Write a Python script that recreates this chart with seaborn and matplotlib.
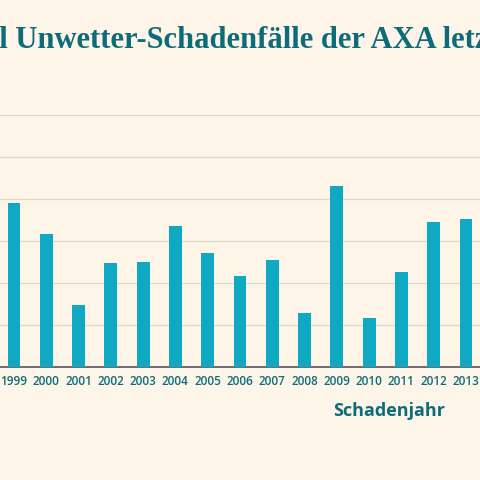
import matplotlib
matplotlib.use("Agg")
import matplotlib.pyplot as plt
import seaborn as sns
import pandas as pd

years = ["1999","2000","2001","2002","2003","2004","2005","2006","2007","2008","2009","2010","2011","2012","2013"]
claims = [3905,3167,1476,2476,2500,3357,2714,2167,2548,1286,4310,1167,2262,3452,3524]
title = "Anzahl Unwetter-Schadenfälle der AXA letzten 20 Jahre"
xlabel = "Schadenjahr"

BG = "#fdf6e8"; BAR = "#0fa9c4"; TXT = "#0e6b7a"
sns.set_theme(style="white")
df = pd.DataFrame({"year": years, "claims": claims})

fig = plt.figure(figsize=(4.8, 4.8), dpi=100, facecolor=BG)
ax = fig.add_axes([0, 113/480, 1, 252/480])
ax.set_facecolor(BG)
sns.barplot(data=df, x="year", y="claims", color=BAR, width=0.40, saturation=1,
            linewidth=0, ax=ax, zorder=3)
ax.set_xlim(-14/32.29, 14 + 14/32.29)
ax.set_ylim(0, 6000)
ax.set_yticks(range(1000, 7000, 1000))
ax.yaxis.grid(True, color="#dcd8cc", lw=0.9, zorder=0)
ax.set_yticklabels([]); ax.tick_params(axis="y", length=0)
for s in ["top", "right", "left"]:
    ax.spines[s].set_visible(False)
ax.spines["bottom"].set_color("#555555"); ax.spines["bottom"].set_linewidth(1.2)
ax.tick_params(axis="x", length=0, pad=6, labelsize=8.5, labelcolor=TXT)
for t in ax.get_xticklabels():
    t.set_fontweight("semibold"); t.set_fontfamily("Open Sans")
ax.set_xlabel(""); ax.set_ylabel("")
fig.text(333/480, 1 - 411/480, xlabel, fontsize=13, fontweight="bold", color=TXT,
         family="Open Sans", va="center", ha="left")

fig.canvas.draw()
r = fig.canvas.get_renderer()
kw = dict(fontsize=22, fontweight="bold", color=TXT, family="Liberation Serif", va="center")
tmp = fig.text(0, 0, "Anzah", **kw)
w = tmp.get_window_extent(r).width
tmp.remove()
fig.text(-(w + 1) / 480, 1 - 40/480, title, ha="left", **kw)

fig.savefig("out.png", dpi=100, facecolor=BG)
